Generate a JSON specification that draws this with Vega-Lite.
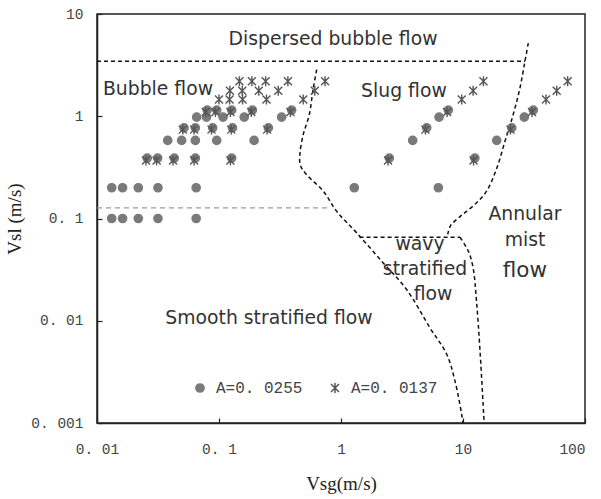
{
  "$schema": "https://vega.github.io/schema/vega-lite/v6.json",
  "autosize": {"type": "none"},
  "padding": {"left": 97, "top": 14, "right": 16, "bottom": 76},
  "width": 488,
  "height": 409,
  "background": "white",
  "config": {
    "view": {"stroke": "#222", "strokeWidth": 1.5},
    "axis": {
      "grid": false,
      "domainColor": "#222",
      "domainWidth": 1.5,
      "tickColor": "#222",
      "tickSize": -5,
      "tickWidth": 1.2,
      "labelFont": "Liberation Mono",
      "labelFontSize": 14.5,
      "labelColor": "#444",
      "titleFont": "Liberation Serif",
      "titleFontSize": 19,
      "titleFontWeight": "normal",
      "titleColor": "#222"
    }
  },
  "datasets": {
    "pts": [
      {"x": 0.0132, "y": 0.1, "A": "A=0. 0255"}, {"x": 0.0162, "y": 0.1, "A": "A=0. 0255"}, {"x": 0.0218, "y": 0.1, "A": "A=0. 0255"}, {"x": 0.0316, "y": 0.1, "A": "A=0. 0255"}, {"x": 0.065, "y": 0.1, "A": "A=0. 0255"},
      {"x": 0.0132, "y": 0.2, "A": "A=0. 0255"}, {"x": 0.0162, "y": 0.2, "A": "A=0. 0255"}, {"x": 0.0218, "y": 0.2, "A": "A=0. 0255"}, {"x": 0.0316, "y": 0.2, "A": "A=0. 0255"}, {"x": 0.065, "y": 0.2, "A": "A=0. 0255"}, {"x": 1.285, "y": 0.2, "A": "A=0. 0255"}, {"x": 6.28, "y": 0.2, "A": "A=0. 0255"},
      {"x": 0.0258, "y": 0.39, "A": "A=0. 0255"}, {"x": 0.0314, "y": 0.39, "A": "A=0. 0255"}, {"x": 0.043, "y": 0.39, "A": "A=0. 0255"}, {"x": 0.064, "y": 0.39, "A": "A=0. 0255"}, {"x": 0.127, "y": 0.39, "A": "A=0. 0255"}, {"x": 2.49, "y": 0.39, "A": "A=0. 0255"}, {"x": 12.5, "y": 0.39, "A": "A=0. 0255"},
      {"x": 0.038, "y": 0.58, "A": "A=0. 0255"}, {"x": 0.0494, "y": 0.58, "A": "A=0. 0255"}, {"x": 0.064, "y": 0.58, "A": "A=0. 0255"}, {"x": 0.0957, "y": 0.58, "A": "A=0. 0255"}, {"x": 0.194, "y": 0.58, "A": "A=0. 0255"}, {"x": 3.87, "y": 0.58, "A": "A=0. 0255"}, {"x": 18.9, "y": 0.58, "A": "A=0. 0255"},
      {"x": 0.0517, "y": 0.77, "A": "A=0. 0255"}, {"x": 0.064, "y": 0.77, "A": "A=0. 0255"}, {"x": 0.0888, "y": 0.77, "A": "A=0. 0255"}, {"x": 0.129, "y": 0.77, "A": "A=0. 0255"}, {"x": 0.254, "y": 0.77, "A": "A=0. 0255"}, {"x": 5.04, "y": 0.77, "A": "A=0. 0255"}, {"x": 25.1, "y": 0.77, "A": "A=0. 0255"},
      {"x": 0.0656, "y": 0.98, "A": "A=0. 0255"}, {"x": 0.079, "y": 0.98, "A": "A=0. 0255"}, {"x": 0.108, "y": 0.98, "A": "A=0. 0255"}, {"x": 0.161, "y": 0.98, "A": "A=0. 0255"}, {"x": 0.326, "y": 0.98, "A": "A=0. 0255"}, {"x": 6.36, "y": 0.98, "A": "A=0. 0255"}, {"x": 31.8, "y": 0.98, "A": "A=0. 0255"},
      {"x": 0.08, "y": 1.15, "A": "A=0. 0255"}, {"x": 0.0957, "y": 1.15, "A": "A=0. 0255"}, {"x": 0.127, "y": 1.15, "A": "A=0. 0255"}, {"x": 0.188, "y": 1.15, "A": "A=0. 0255"}, {"x": 0.394, "y": 1.15, "A": "A=0. 0255"}, {"x": 7.58, "y": 1.15, "A": "A=0. 0255"}, {"x": 37.7, "y": 1.15, "A": "A=0. 0255"},
      {"x": 0.0252, "y": 0.37, "A": "A=0. 0137"}, {"x": 0.0308, "y": 0.37, "A": "A=0. 0137"}, {"x": 0.042, "y": 0.37, "A": "A=0. 0137"}, {"x": 0.0625, "y": 0.37, "A": "A=0. 0137"}, {"x": 0.124, "y": 0.37, "A": "A=0. 0137"}, {"x": 2.43, "y": 0.37, "A": "A=0. 0137"}, {"x": 12.2, "y": 0.37, "A": "A=0. 0137"},
      {"x": 0.0505, "y": 0.74, "A": "A=0. 0137"}, {"x": 0.0625, "y": 0.74, "A": "A=0. 0137"}, {"x": 0.0868, "y": 0.74, "A": "A=0. 0137"}, {"x": 0.126, "y": 0.74, "A": "A=0. 0137"}, {"x": 0.248, "y": 0.74, "A": "A=0. 0137"}, {"x": 4.92, "y": 0.74, "A": "A=0. 0137"}, {"x": 24.5, "y": 0.74, "A": "A=0. 0137"},
      {"x": 0.078, "y": 1.1, "A": "A=0. 0137"}, {"x": 0.0935, "y": 1.1, "A": "A=0. 0137"}, {"x": 0.124, "y": 1.1, "A": "A=0. 0137"}, {"x": 0.184, "y": 1.1, "A": "A=0. 0137"}, {"x": 0.385, "y": 1.1, "A": "A=0. 0137"}, {"x": 7.4, "y": 1.1, "A": "A=0. 0137"}, {"x": 36.8, "y": 1.1, "A": "A=0. 0137"},
      {"x": 0.1, "y": 1.46, "A": "A=0. 0137"}, {"x": 0.122, "y": 1.46, "A": "A=0. 0137"}, {"x": 0.156, "y": 1.46, "A": "A=0. 0137"}, {"x": 0.245, "y": 1.46, "A": "A=0. 0137"}, {"x": 0.49, "y": 1.46, "A": "A=0. 0137"}, {"x": 9.76, "y": 1.46, "A": "A=0. 0137"}, {"x": 47.9, "y": 1.46, "A": "A=0. 0137"},
      {"x": 0.123, "y": 1.78, "A": "A=0. 0137"}, {"x": 0.155, "y": 1.78, "A": "A=0. 0137"}, {"x": 0.212, "y": 1.78, "A": "A=0. 0137"}, {"x": 0.306, "y": 1.78, "A": "A=0. 0137"}, {"x": 0.61, "y": 1.78, "A": "A=0. 0137"}, {"x": 12.1, "y": 1.78, "A": "A=0. 0137"}, {"x": 58.6, "y": 1.78, "A": "A=0. 0137"},
      {"x": 0.147, "y": 2.2, "A": "A=0. 0137"}, {"x": 0.186, "y": 2.2, "A": "A=0. 0137"}, {"x": 0.241, "y": 2.2, "A": "A=0. 0137"}, {"x": 0.367, "y": 2.2, "A": "A=0. 0137"}, {"x": 0.74, "y": 2.2, "A": "A=0. 0137"}, {"x": 14.7, "y": 2.2, "A": "A=0. 0137"}, {"x": 72.1, "y": 2.2, "A": "A=0. 0137"}
    ],
    "lines": [
      {"line": "top", "o": 1, "x": 0.01, "y": 3.45}, {"line": "top", "o": 2, "x": 32.2, "y": 3.45},
      {"line": "c1", "o": 1, "x": 0.632, "y": 2.86}, {"line": "c1", "o": 2, "x": 0.59, "y": 1.82}, {"line": "c1", "o": 3, "x": 0.55, "y": 1.04}, {"line": "c1", "o": 4, "x": 0.49, "y": 0.66}, {"line": "c1", "o": 5, "x": 0.46, "y": 0.42}, {"line": "c1", "o": 6, "x": 0.465, "y": 0.33}, {"line": "c1", "o": 7, "x": 0.52, "y": 0.27}, {"line": "c1", "o": 8, "x": 0.716, "y": 0.185}, {"line": "c1", "o": 9, "x": 0.92, "y": 0.118}, {"line": "c1", "o": 10, "x": 1.35, "y": 0.072}, {"line": "c1", "o": 11, "x": 2.22, "y": 0.0368}, {"line": "c1", "o": 12, "x": 3.45, "y": 0.0202}, {"line": "c1", "o": 13, "x": 5.37, "y": 0.0085}, {"line": "c1", "o": 14, "x": 7.35, "y": 0.0047}, {"line": "c1", "o": 15, "x": 8.6, "y": 0.00257}, {"line": "c1", "o": 16, "x": 9.77, "y": 0.0012}, {"line": "c1", "o": 17, "x": 10, "y": 0.001},
      {"line": "c2", "o": 1, "x": 34.3, "y": 5.2}, {"line": "c2", "o": 2, "x": 32.2, "y": 3.45}, {"line": "c2", "o": 3, "x": 29.3, "y": 1.89}, {"line": "c2", "o": 4, "x": 25.8, "y": 1.04}, {"line": "c2", "o": 5, "x": 22.1, "y": 0.57}, {"line": "c2", "o": 6, "x": 18.9, "y": 0.31}, {"line": "c2", "o": 7, "x": 15.6, "y": 0.185}, {"line": "c2", "o": 8, "x": 12.3, "y": 0.135}, {"line": "c2", "o": 9, "x": 9.5, "y": 0.105}, {"line": "c2", "o": 10, "x": 7.9, "y": 0.085}, {"line": "c2", "o": 11, "x": 7.5, "y": 0.07},
      {"line": "wt", "o": 1, "x": 1.42, "y": 0.0656}, {"line": "wt", "o": 2, "x": 9.45, "y": 0.0656},
      {"line": "wa", "o": 1, "x": 9.45, "y": 0.0656}, {"line": "wa", "o": 2, "x": 11.05, "y": 0.048}, {"line": "wa", "o": 3, "x": 12.1, "y": 0.033}, {"line": "wa", "o": 4, "x": 12.9, "y": 0.0156}, {"line": "wa", "o": 5, "x": 13.8, "y": 0.005}, {"line": "wa", "o": 6, "x": 14.9, "y": 0.001}
    ],
    "gray": [
      {"x": 0.01, "y": 0.127}, {"x": 0.78, "y": 0.127}
    ],
    "labels": [
      {"x": 0.86, "y": 5.66, "t": "Dispersed bubble flow"},
      {"x": 0.0316, "y": 1.84, "t": "Bubble flow"},
      {"x": 3.28, "y": 1.75, "t": "Slug flow"},
      {"x": 4.44, "y": 0.056, "t": "wavy"},
      {"x": 4.88, "y": 0.0319, "t": "stratified"},
      {"x": 5.68, "y": 0.0182, "t": "flow"},
      {"x": 0.257, "y": 0.0106, "t": "Smooth stratified flow"},
      {"x": 32.2, "y": 0.11, "t": "Annular"},
      {"x": 32.2, "y": 0.0614, "t": "mist"}
    ],
    "labels3": [
      {"x": 32.2, "y": 0.0305, "t": "flow"}
    ]
  },
  "layer": [
    {
      "data": {"name": "gray"},
      "mark": {"type": "line", "color": "#9a9a9a", "strokeDash": [5, 4], "strokeWidth": 1.2},
      "encoding": {
        "x": {"field": "x", "type": "quantitative", "scale": {"type": "log", "domain": [0.01, 100]},
          "axis": {"values": [0.01, 0.1, 1, 10, 100], "title": "Vsg(m/s)", "labelPadding": 24, "titlePadding": 19,
            "labelExpr": "datum.value < 1 ? replace(toString(datum.value), '.', '. ') : toString(datum.value)",
            "labelAlign": {"condition": {"test": "datum.value == 100", "value": "right"}, "value": "center"}}},
        "y": {"field": "y", "type": "quantitative", "scale": {"type": "log", "domain": [0.001, 10]},
          "axis": {"values": [0.001, 0.01, 0.1, 1, 10], "title": "Vsl (m/s)", "labelPadding": 19, "titlePadding": 6,
            "labelExpr": "datum.value < 1 ? replace(toString(datum.value), '.', '. ') : toString(datum.value)"}}
      }
    },
    {
      "data": {"name": "lines"},
      "mark": {"type": "line", "color": "#111", "strokeDash": [4, 3], "strokeWidth": 1.5, "interpolate": "catmull-rom"},
      "encoding": {
        "x": {"field": "x", "type": "quantitative"},
        "y": {"field": "y", "type": "quantitative"},
        "detail": {"field": "line"},
        "order": {"field": "o", "type": "quantitative"}
      }
    },
    {
      "data": {"name": "pts"},
      "mark": {"type": "point", "opacity": 1, "strokeWidth": 1.4},
      "encoding": {
        "x": {"field": "x", "type": "quantitative"},
        "y": {"field": "y", "type": "quantitative"},
        "shape": {"field": "A", "type": "nominal",
          "scale": {"domain": ["A=0. 0255", "A=0. 0137"], "range": ["circle", "M-0.8,-0.8L0.8,0.8M-0.8,0.8L0.8,-0.8M0,-1L0,1"]},
          "legend": {"title": null, "orient": "none", "legendX": 95, "legendY": 366, "direction": "horizontal",
            "labelFont": "Liberation Mono", "labelFontSize": 16, "labelColor": "#444",
            "columnPadding": 24, "labelOffset": 8, "padding": 0}},
        "size": {"field": "A", "type": "nominal",
          "scale": {"domain": ["A=0. 0255", "A=0. 0137"], "range": [68, 100]}},
        "fill": {"field": "A", "type": "nominal",
          "scale": {"domain": ["A=0. 0255", "A=0. 0137"], "range": ["#7a7a7a", "transparent"]}},
        "stroke": {"field": "A", "type": "nominal",
          "scale": {"domain": ["A=0. 0255", "A=0. 0137"], "range": ["#7a7a7a", "#555555"]}}
      }
    },
    {
      "data": {"name": "labels"},
      "mark": {"type": "text", "font": "DejaVu Sans", "fontSize": 18.8, "color": "#333"},
      "encoding": {
        "x": {"field": "x", "type": "quantitative"},
        "y": {"field": "y", "type": "quantitative"},
        "text": {"field": "t"}
      }
    },
    {
      "data": {"name": "labels3"},
      "mark": {"type": "text", "font": "DejaVu Sans", "fontSize": 21.5, "color": "#333"},
      "encoding": {
        "x": {"field": "x", "type": "quantitative"},
        "y": {"field": "y", "type": "quantitative"},
        "text": {"field": "t"}
      }
    }
  ]
}
